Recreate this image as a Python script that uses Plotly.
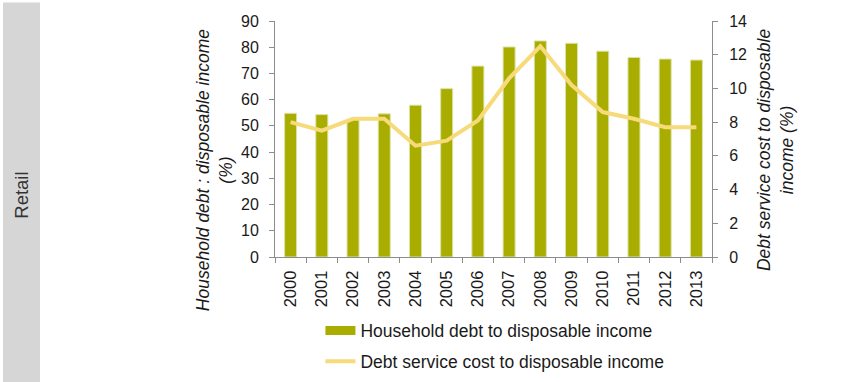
import plotly.graph_objects as go

years = ["2000", "2001", "2002", "2003", "2004", "2005", "2006",
         "2007", "2008", "2009", "2010", "2011", "2012", "2013"]
household_debt = [54.8, 54.3, 52.4, 54.6, 57.9, 64.2, 72.8,
                  80.1, 82.4, 81.5, 78.5, 76.1, 75.5, 75.1]
debt_service = [8.0, 7.5, 8.2, 8.2, 6.6, 6.9, 8.1,
                10.6, 12.5, 10.2, 8.6, 8.2, 7.7, 7.7]

bar_name = "Household debt to disposable income"
line_name = "Debt service cost to disposable income"

FONT = "Arial, Liberation Sans, sans-serif"
GREEN = "#A8AD00"
YELLOW = "#F7DA7A"
AXIS = "#8C8C8C"

fig = go.Figure()
fig.add_trace(go.Bar(
    x=years, y=household_debt, name=bar_name, showlegend=False,
    marker=dict(color=GREEN, line=dict(color="#DDE3A8", width=1)),
    yaxis="y", legendgroup="a",
))
# legend-only entry for the bar series (wide rectangle symbol)
fig.add_trace(go.Scatter(
    x=[None], y=[None], mode="lines", name=bar_name,
    line=dict(color=GREEN, width=9), legendgroup="a", hoverinfo="skip",
))
fig.add_trace(go.Scatter(
    x=years, y=debt_service, name=line_name, mode="lines",
    line=dict(color=YELLOW, width=4), yaxis="y2", legendgroup="b",
))

fig.update_layout(
    width=856, height=382,
    margin=dict(l=275, r=144, t=21, b=125, autoexpand=False),
    paper_bgcolor="white", plot_bgcolor="white",
    font=dict(family=FONT, size=16, color="#1a1a1a"),
    bargap=0.615,
    xaxis=dict(
        type="category", showline=True, linecolor=AXIS, linewidth=1,
        ticks="outside", tickson="boundaries", ticklen=5, tickcolor=AXIS,
        tickangle=-90, tickfont=dict(size=16.5), showgrid=False, zeroline=False,
        ticklabelstandoff=6, automargin=False,
    ),
    yaxis=dict(
        range=[0, 90], dtick=10, showline=True, linecolor=AXIS, linewidth=1,
        ticks="outside", ticklen=5, tickcolor=AXIS, showgrid=False,
        zeroline=False, tickfont=dict(size=16), ticklabelstandoff=7,
        automargin=False,
    ),
    yaxis2=dict(
        range=[0, 14], dtick=2, overlaying="y", side="right", showline=True,
        linecolor=AXIS, linewidth=1, ticks="outside", ticklen=5,
        tickcolor=AXIS, showgrid=False, zeroline=False, tickfont=dict(size=16),
        ticklabelstandoff=8, automargin=False,
    ),
    legend=dict(
        orientation="v", x=0.104, xanchor="left", y=-0.236, yanchor="top",
        font=dict(size=17.5), traceorder="grouped", tracegroupgap=5,
        bgcolor="rgba(0,0,0,0)",
    ),
    shapes=[dict(
        type="rect", xref="paper", yref="paper",
        x0=-0.6224, x1=-0.5378, y0=-0.6, y1=1.078,
        fillcolor="#D6D6D6", line=dict(width=0), layer="below",
    )],
    annotations=[
        dict(text="Retail", xref="paper", yref="paper", x=-0.58, y=0.262,
             xanchor="center", yanchor="middle",
             textangle=-90, showarrow=False, font=dict(size=18.5, color="#333333")),
        dict(text="<i>Household debt : disposable income<br>(%)</i>",
             xref="paper", yref="paper", x=-0.1396, y=0.368, textangle=-90,
             xanchor="center", yanchor="middle",
             showarrow=False, font=dict(size=17.5)),
        dict(text="<i>Debt service cost to disposable<br>income (%)</i>",
             xref="paper", yref="paper", x=1.144, y=0.453, textangle=-90,
             xanchor="center", yanchor="middle",
             showarrow=False, font=dict(size=17.5)),
    ],
)

fig.write_html("out.html")
